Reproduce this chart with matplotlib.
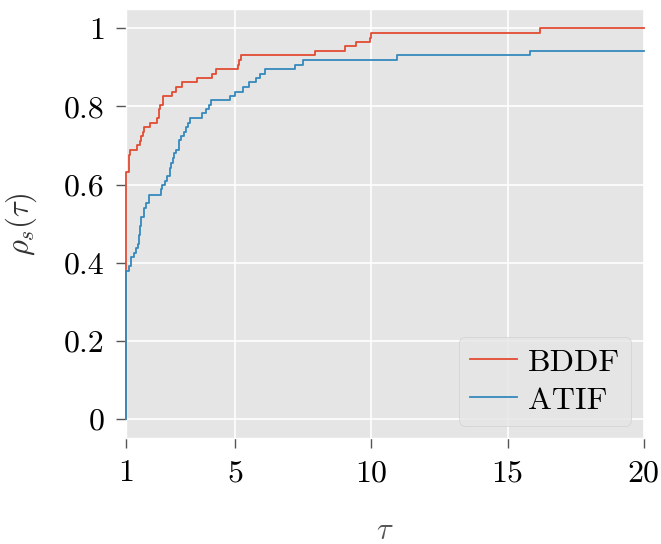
import matplotlib
matplotlib.use('Agg')
import matplotlib.pyplot as plt

# performance profile steps (tau, rho)
bddf_tau = [1.0, 1.0, 1.085, 1.147, 1.39, 1.49, 1.55, 1.60, 1.64, 1.86, 2.13, 2.19, 2.21,
            2.25, 2.35, 2.68, 2.84, 3.05, 3.60, 4.15, 4.30, 5.11, 5.15, 5.22, 7.92, 9.03,
            9.42, 9.94, 9.98, 16.19, 20.0]
bddf_rho = [0.0, 0.633, 0.676, 0.689, 0.700, 0.712, 0.724, 0.735, 0.747, 0.758, 0.770, 0.782,
            0.793, 0.804, 0.827, 0.838, 0.850, 0.863, 0.873, 0.884, 0.895, 0.907, 0.918, 0.931,
            0.942, 0.954, 0.965, 0.976, 0.988, 1.0, 1.0]

atif_tau = [1.0, 1.0, 1.085, 1.18, 1.27, 1.37, 1.43, 1.48, 1.51, 1.54, 1.64, 1.72, 1.85,
            2.28, 2.33, 2.41, 2.50, 2.59, 2.64, 2.70, 2.76, 2.84, 2.92, 3.02, 3.11, 3.19,
            3.27, 3.35, 3.78, 3.94, 4.02, 4.11, 4.82, 5.01, 5.29, 5.50, 5.77, 5.90, 6.11,
            7.21, 7.48, 10.93, 15.83, 20.0]
atif_rho = [0.0, 0.378, 0.391, 0.415, 0.425, 0.438, 0.449, 0.472, 0.493, 0.517, 0.540, 0.553,
            0.574, 0.589, 0.600, 0.610, 0.621, 0.642, 0.655, 0.668, 0.680, 0.689, 0.713, 0.724,
            0.735, 0.747, 0.758, 0.770, 0.782, 0.793, 0.804, 0.816, 0.827, 0.838, 0.849, 0.863,
            0.873, 0.884, 0.895, 0.907, 0.918, 0.931, 0.942, 0.942]

xticks = [1, 5, 10, 15, 20]
yticks = [0, 0.2, 0.4, 0.6, 0.8, 1.0]
ytick_labels = ['0', '0.2', '0.4', '0.6', '0.8', '1']

plt.style.use('ggplot')
plt.rcParams['font.family'] = 'serif'
plt.rcParams['font.serif'] = ['cmr10', 'DejaVu Serif']
plt.rcParams['mathtext.fontset'] = 'cm'
plt.rcParams['axes.unicode_minus'] = False

fig = plt.figure(figsize=(6.61, 5.44), dpi=100)
ax = fig.add_axes([0.191, 0.194, 0.783, 0.790])

ax.step(bddf_tau, bddf_rho, where='post', color='#E24A33', lw=1.3, label='BDDF',
        clip_on=False, zorder=3)
ax.step(atif_tau, atif_rho, where='post', color='#348ABD', lw=1.3, label='ATIF',
        clip_on=False, zorder=3)

ax.set_xlim(1, 20)
ax.set_ylim(-0.05, 1.05)
ax.set_xticks(xticks)
ax.set_xticklabels([str(t) for t in xticks])
ax.set_yticks(yticks)
ax.set_yticklabels(ytick_labels)
ax.tick_params(labelsize=23, length=7.5, width=1, color='#555555', pad=8, labelcolor='black')
ax.grid(True, color='white', lw=1.2)

ax.set_xlabel(r'$\tau$', fontsize=22, labelpad=22, color='#555555')
ax.set_ylabel(r'$\rho_s(\tau)$', fontsize=22, labelpad=18, color='#333333')

leg = ax.legend(loc='lower right', fontsize=23, handlelength=1.45, borderpad=0.35,
                labelspacing=0.3, handletextpad=0.35, borderaxespad=0.4)
leg.get_frame().set_facecolor('#E5E5E5')
leg.get_frame().set_edgecolor('#CCCCCC')
leg.set_zorder(4)

fig.savefig('out.png', dpi=100)
